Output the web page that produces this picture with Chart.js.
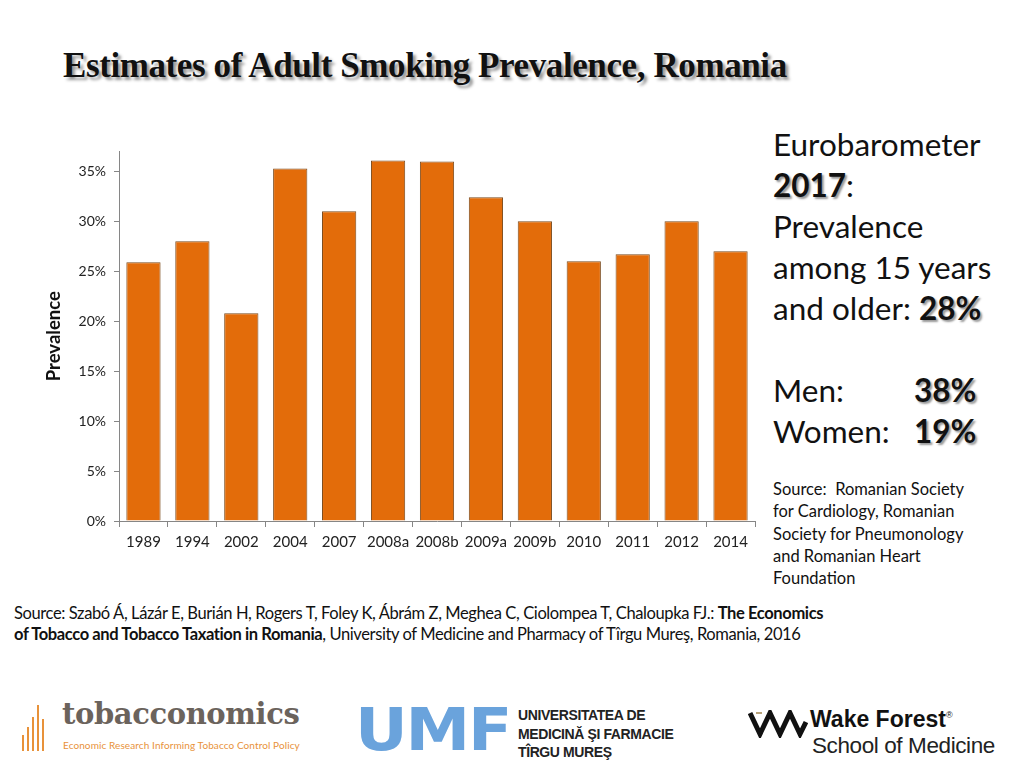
<!DOCTYPE html>
<html>
<head>
<meta charset="utf-8">
<script src="https://cdn.jsdelivr.net/npm/chart.js@4/dist/chart.umd.min.js"></script>
<style>
  body { margin: 0; width: 1024px; height: 768px; background: #fff; position: relative; overflow: hidden; font-family: Lato, "Open Sans", sans-serif; }
  .title { position: absolute; left: 63px; top: 46px; font-family: "Liberation Serif", serif; font-weight: bold; font-size: 35px; color: #111; text-shadow: 3px 3px 3px #999; letter-spacing: -0.4px; }
  #chartBox { position: absolute; left: 36px; top: 135px; width: 724px; height: 430px; }
  .side { position: absolute; left: 773px; top: 124px; font-size: 31.5px; line-height: 41px; color: #111; }
  .side b { text-shadow: 2px 2px 2px #999; }
  .side .gap { height: 41px; }
  .side .row span { display: inline-block; width: 141px; }
  .side .src { font-size: 16.5px; line-height: 22.3px; margin-top: 26px; }
  .source { position: absolute; left: 14px; top: 603px; font-size: 16.55px; line-height: 21px; color: #111; letter-spacing: -0.4px; }
  .logo1 { position: absolute; left: 20px; top: 705px; }
  .logo1 .name { position: absolute; left: 42px; top: -8px; font-family: "DejaVu Serif", serif; font-weight: bold; font-size: 29px; color: #6b635c; letter-spacing: -0.4px; }
  .logo1 .tag { position: absolute; left: 43px; top: 34px; font-size: 10px; color: #e8923a; white-space: nowrap; letter-spacing: 0.1px; }
  .logo2 { position: absolute; left: 355px; top: 707px; }
  .logo2 .umf { font-family: "DejaVu Sans", sans-serif; font-weight: bold; font-size: 58px; line-height: 46px; color: #6aa3dc; letter-spacing: -2px; transform: scaleX(1.12); transform-origin: left top; }
  .logo2 .txt { position: absolute; left: 163px; top: -1px; font-family: "Liberation Sans", sans-serif; font-weight: bold; font-size: 14px; line-height: 18.5px; color: #222; white-space: nowrap; letter-spacing: -0.4px; }
  .logo3 { position: absolute; left: 748px; top: 706px; }
  .logo3 svg { position: absolute; left: 0; top: 4px; }
  .logo3 .wf { position: absolute; left: 62px; top: 0; font-family: "Liberation Sans", sans-serif; font-weight: bold; font-size: 23px; color: #111; white-space: nowrap; }
  .logo3 .wf sup { font-size: 9px; font-weight: normal; }
  .logo3 .som { position: absolute; left: 64px; top: 27px; font-family: "Liberation Sans", sans-serif; font-size: 22.5px; color: #222; white-space: nowrap; letter-spacing: -0.4px; }
</style>
</head>
<body>
<div class="title">Estimates of Adult Smoking Prevalence, Romania</div>
<div id="chartBox"><canvas id="chart"></canvas></div>

<div class="side">
  <div>Eurobarometer</div>
  <div><b>2017</b>:</div>
  <div>Prevalence</div>
  <div>among 15 years</div>
  <div>and older: <b>28%</b></div>
  <div class="gap"></div>
  <div class="row"><span>Men:</span><b>38%</b></div>
  <div class="row"><span>Women:</span><b>19%</b></div>
  <div class="src">Source:&nbsp; Romanian Society<br>for Cardiology, Romanian<br>Society for Pneumonology<br>and Romanian Heart<br>Foundation</div>
</div>

<div class="source">Source: Szabó Á, Lázár E, Burián H, Rogers T, Foley K, Ábrám Z, Meghea C, Ciolompea T, Chaloupka FJ.: <b>The Economics</b><br><b>of Tobacco and Tobacco Taxation in Romania</b>, University of Medicine and Pharmacy of Tîrgu Mureş, Romania, 2016</div>

<div class="logo1">
  <svg width="40" height="48" style="position:absolute;left:0;top:0">
    <rect x="2" y="30" width="2" height="16" fill="#e8923a"/>
    <rect x="7" y="22" width="2" height="24" fill="#e8923a"/>
    <rect x="12" y="12" width="2" height="34" fill="#e8923a"/>
    <rect x="17" y="0" width="2" height="46" fill="#e8923a"/>
    <rect x="22" y="14" width="2" height="32" fill="#e8923a"/>
  </svg>
  <div class="name">tobacconomics</div>
  <div class="tag">Economic Research Informing Tobacco Control Policy</div>
</div>

<div class="logo2">
  <div class="umf">UMF</div>
  <div class="txt">UNIVERSITATEA DE<br>MEDICINĂ ŞI FARMACIE<br>TÎRGU MUREŞ</div>
</div>

<div class="logo3">
  <svg width="60" height="28">
    <polyline points="2,3 12,24 22,3 32,24 42,3 52,24 58,12" fill="none" stroke="#111" stroke-width="5" stroke-linejoin="miter"/>
    <polyline points="8,3 14,3 M26,3 32,3" fill="none" stroke="#b8a27a" stroke-width="2"/>
  </svg>
  <div class="wf">Wake Forest<sup>®</sup></div>
  <div class="som">School of Medicine</div>
</div>

<script>
const years = ['1989', '1994', '2002', '2004', '2007', '2008a', '2008b', '2009a', '2009b', '2010', '2011', '2012', '2014'];
const prevalence = [25.9, 28.0, 20.8, 35.3, 31.0, 36.1, 36.0, 32.4, 30.0, 26.0, 26.7, 30.0, 27.0];
const yTicks = [0, 5, 10, 15, 20, 25, 30, 35];

const axisGray = '#868686';

new Chart(document.getElementById('chart'), {
  type: 'bar',
  data: {
    labels: years,
    datasets: [{
      label: 'Prevalence',
      data: prevalence,
      backgroundColor: '#e36c0a',
      borderColor: '#7a4a1c',
      borderWidth: 1,
      barPercentage: 0.7,
      categoryPercentage: 1
    }]
  },
  options: {
    responsive: true,
    maintainAspectRatio: false,
    animation: false,
    layout: { padding: { top: 7, right: 5 } },
    plugins: {
      legend: { display: false },
      tooltip: { enabled: false }
    },
    scales: {
      x: {
        offset: true,
        grid: { offset: true, drawOnChartArea: false, drawTicks: true, tickLength: 6, color: axisGray },
        border: { color: axisGray },
        ticks: { color: '#222', font: { family: 'Lato, "Open Sans", sans-serif', size: 15 }, padding: 6, maxRotation: 0, autoSkip: false },
        afterFit: scale => { scale.height = 44; }
      },
      y: {
        min: 0,
        max: 37,
        afterBuildTicks: scale => { scale.ticks = yTicks.map(v => ({ value: v })); },
        grid: { drawOnChartArea: false, drawTicks: true, tickLength: 5, color: axisGray },
        border: { color: axisGray },
        ticks: {
          color: '#222',
          font: { family: 'Lato, "Open Sans", sans-serif', size: 14 },
          padding: 8,
          callback: value => value + '%'
        },
        title: {
          display: true,
          text: 'Prevalence',
          color: '#111',
          font: { family: 'Lato, "Open Sans", sans-serif', size: 18.5, weight: 'bold' },
          padding: { top: 7, bottom: 0 }
        },
        afterFit: scale => { scale.width = 83; }
      }
    }
  }
});
</script>
</body>
</html>
